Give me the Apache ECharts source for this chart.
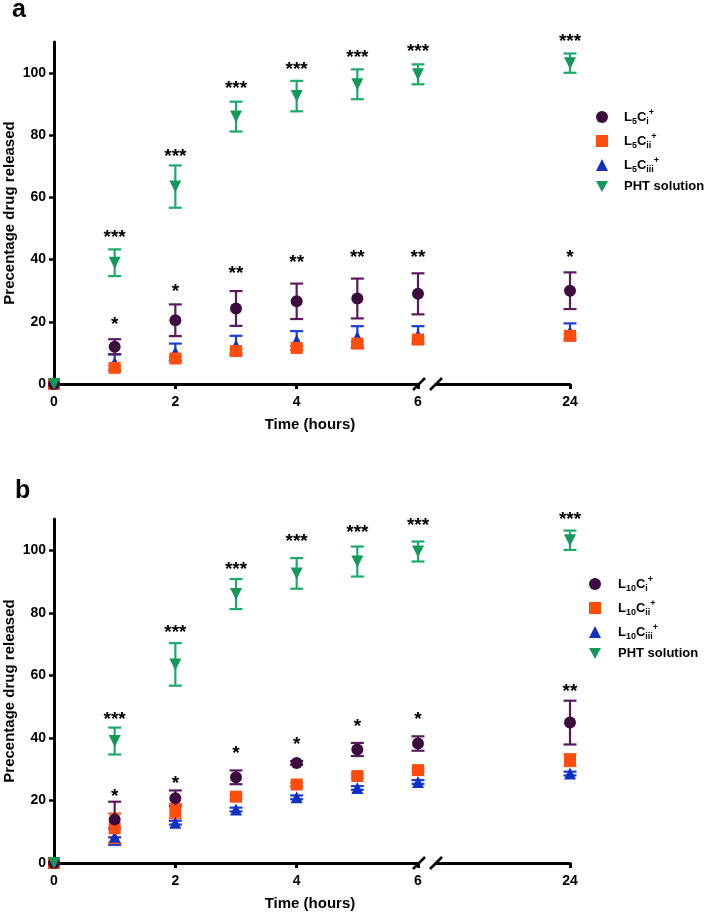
<!DOCTYPE html>
<html><head><meta charset="utf-8">
<script src="https://cdn.jsdelivr.net/npm/echarts@6/dist/echarts.min.js"></script>
<style>html,body{margin:0;padding:0;background:#fff}#c{width:706px;height:913px}</style>
</head><body><div id="c"></div>
<script>
// ---------- data ----------
const times = [0, 1, 2, 3, 4, 5, 6, 24];
const yTicks = [0, 20, 40, 60, 80, 100];
const xTicksLeft = [0, 2, 4, 6];
const xTicksRight = [24];

// Panel a
const aCiMean   = [0, 12.0, 20.5, 24.3, 26.6, 27.5, 29.0, 30.0];
const aCiSd     = [0, 2.4, 5.1, 5.6, 5.7, 6.4, 6.6, 5.9];
const aCiiMean  = [0, 5.2, 8.2, 10.6, 11.6, 13.0, 14.3, 15.5];
const aCiiSd    = [0, 0.6, 0.6, 0.6, 0.6, 0.6, 0.6, 0.6];
const aCiiiMean = [0, 6.9, 10.2, 12.4, 14.0, 15.1, 15.8, 16.8];
const aCiiiSd   = [0, 2.6, 2.8, 3.1, 3.0, 3.5, 2.8, 2.7];
const phtMean   = [0, 39.0, 63.5, 86.0, 92.6, 96.4, 99.6, 103.2];
const phtSd     = [0, 4.3, 6.8, 4.8, 4.9, 4.8, 3.2, 3.1];

const aCiSig    = ['', '*', '*', '**', '**', '**', '**', '*'];
const aCiSigY   = [null, 20.2, 31.1, 36.9, 40.4, 42.0, 42.0, 42.0];
const phtSig    = ['', '***', '***', '***', '***', '***', '***', '***'];
const aPhtSigY  = [null, 48.4, 74.5, 96.2, 102.2, 106.3, 108.3, 111.5];

// Panel b
const bCiMean   = [0, 13.9, 20.7, 27.4, 32.0, 36.3, 38.2, 44.9];
const bCiSd     = [0, 5.7, 2.5, 2.2, 0.6, 2.1, 2.3, 7.0];
const bCiiMean  = [0, 11.1, 16.6, 21.2, 25.1, 27.8, 29.7, 32.9];
const bCiiSd    = [0, 4.7, 2.3, 0.6, 0.6, 0.6, 0.6, 1.9];
const bCiiiMean = [0, 8.4, 12.9, 17.1, 21.0, 24.0, 25.9, 28.6];
const bCiiiSd   = [0, 2.6, 0.6, 0.6, 0.6, 0.6, 0.6, 0.6];

const bCiSig    = ['', '*', '*', '*', '*', '*', '*', '**'];
const bCiSigY   = [null, 22.6, 26.7, 36.3, 39.0, 44.8, 47.0, 55.9];
const bPhtSigY  = [null, 47.0, 74.8, 95.0, 104.0, 106.9, 109.0, 110.9];

// ---------- styling ----------
const FONT = "'Liberation Sans', Arial, Helvetica, sans-serif";
const C = {
  ci:   {mark: '#3c0c3e', bar: '#5a1a5e', symbol: 'circle', size: 12, rot: 0},
  cii:  {mark: '#ff4d0d', bar: '#ff5a1a', symbol: 'rect', size: 12, rot: 0},
  ciii: {mark: '#1030c4', bar: '#1a3fd0', symbol: 'triangle', size: 12, rot: 0},
  pht:  {mark: '#14995b', bar: '#1caa6a', symbol: 'triangle', size: 12, rot: 180}
};

const panels = [
  {top: 42, height: 342, names: ['L5Ci+', 'L5Cii+', 'L5Ciii+', 'PHT solution'],
   sets: [
     {key: 'ciii', name: 'L5Ciii+', mean: aCiiiMean, sd: aCiiiSd},
     {key: 'cii', name: 'L5Cii+', mean: aCiiMean, sd: aCiiSd},
     {key: 'ci', name: 'L5Ci+', mean: aCiMean, sd: aCiSd, sig: aCiSig, sigY: aCiSigY},
     {key: 'pht', name: 'PHT solution', mean: phtMean, sd: phtSd, sig: phtSig, sigY: aPhtSigY}
   ],
   legend: {left: 596, top: 108, pad: 11}},
  {top: 519, height: 344, names: ['L10Ci+', 'L10Cii+', 'L10Ciii+', 'PHT solution'],
   sets: [
     {key: 'ciii', name: 'L10Ciii+', mean: bCiiiMean, sd: bCiiiSd},
     {key: 'cii', name: 'L10Cii+', mean: bCiiMean, sd: bCiiSd},
     {key: 'ci', name: 'L10Ci+', mean: bCiMean, sd: bCiSd, sig: bCiSig, sigY: bCiSigY},
     {key: 'pht', name: 'PHT solution', mean: phtMean, sd: phtSd, sig: phtSig, sigY: bPhtSigY}
   ],
   legend: {left: 589, top: 575, pad: 12}}
];

const LEFT_X0 = 54, LEFT_W = 364, RIGHT_X0 = 436, RIGHT_W = 134;

const grids = [], xAxes = [], yAxes = [], series = [], legends = [], graphics = [];

const axisLabelStyle = {color: '#000', fontFamily: FONT, fontWeight: 'bold', fontSize: 14};

function errRender(color, capHalf) {
  return function (params, api) {
    const x = api.value(0), lo = api.value(1), hi = api.value(2);
    if (hi - lo <= 0) return null;
    const p1 = api.coord([x, hi]), p2 = api.coord([x, lo]);
    const st = {stroke: color, lineWidth: 2.2, fill: null};
    return {type: 'group', children: [
      {type: 'line', shape: {x1: p1[0], y1: p1[1], x2: p2[0], y2: p2[1]}, style: st},
      {type: 'line', shape: {x1: p1[0] - capHalf, y1: p1[1], x2: p1[0] + capHalf, y2: p1[1]}, style: st},
      {type: 'line', shape: {x1: p2[0] - capHalf, y1: p2[1], x2: p2[0] + capHalf, y2: p2[1]}, style: st}
    ]};
  };
}
function starRender(texts) {
  return function (params, api) {
    const p = api.coord([api.value(0), api.value(1)]);
    return {type: 'text', x: p[0], y: p[1] + 4, style: {
      text: texts[params.dataIndex], fill: '#000', align: 'center', verticalAlign: 'middle',
      font: 'bold 19px ' + FONT}};
  };
}

panels.forEach(function (pn, pi) {
  const gL = grids.length;
  grids.push({left: LEFT_X0, top: pn.top, width: LEFT_W, height: pn.height, outerBoundsMode: 'none', containLabel: false});
  grids.push({left: RIGHT_X0, top: pn.top, width: RIGHT_W, height: pn.height, outerBoundsMode: 'none', containLabel: false});
  const axLine = {show: true, onZero: false, lineStyle: {color: '#000', width: 3}};
  xAxes.push({gridIndex: gL, type: 'value', min: 0, max: 6,
    axisLine: axLine, splitLine: {show: false},
    axisTick: {show: true, customValues: xTicksLeft, length: 5, lineStyle: {color: '#000', width: 3}},
    axisLabel: Object.assign({customValues: xTicksLeft, margin: 11}, axisLabelStyle)});
  xAxes.push({gridIndex: gL + 1, type: 'value', min: 22, max: 24,
    axisLine: axLine, splitLine: {show: false},
    axisTick: {show: true, customValues: xTicksRight, length: 5, lineStyle: {color: '#000', width: 3}},
    axisLabel: Object.assign({customValues: xTicksRight, margin: 11}, axisLabelStyle)});
  yAxes.push({gridIndex: gL, type: 'value', min: 0, max: 110,
    axisLine: axLine, splitLine: {show: false},
    axisTick: {show: true, customValues: yTicks, length: 5, lineStyle: {color: '#000', width: 2.5}},
    axisLabel: Object.assign({customValues: yTicks, margin: 8}, axisLabelStyle)});
  yAxes.push({gridIndex: gL + 1, type: 'value', min: 0, max: 110, show: false});

  pn.sets.forEach(function (s) {
    const st = C[s.key];
    [0, 1].forEach(function (side) {
      const idx = [];
      times.forEach(function (t, i) { if ((side === 0) === (t <= 6)) idx.push(i); });
      const ax = gL + side;
      series.push({type: 'custom', xAxisIndex: ax, yAxisIndex: ax, clip: false, silent: true,
        renderItem: errRender(st.bar, 6.5),
        data: idx.map(function (i) { return [times[i], s.mean[i] - s.sd[i], s.mean[i] + s.sd[i]]; })});
      series.push({type: 'scatter', name: s.name, xAxisIndex: ax, yAxisIndex: ax, clip: false, silent: true,
        symbol: st.symbol, symbolSize: st.size, symbolRotate: st.rot,
        itemStyle: {color: st.mark, opacity: 1},
        data: idx.map(function (i) { return [times[i], s.mean[i]]; })});
      if (s.sig) {
        const ii = idx.filter(function (i) { return s.sigY[i] != null; });
        series.push({type: 'custom', xAxisIndex: ax, yAxisIndex: ax, clip: false, silent: true,
          renderItem: starRender(ii.map(function (i) { return s.sig[i]; })),
          data: ii.map(function (i) { return [times[i], s.sigY[i]]; })});
      }
    });
  });

  const icons = {ci: 'circle', cii: 'rect', ciii: 'triangle', pht: 'path://M0,0 L10,0 L5,9 Z'};
  const keys = ['ci', 'cii', 'ciii', 'pht'];
  legends.push({orient: 'vertical', left: pn.legend.left, top: pn.legend.top, padding: 0,
    itemWidth: 12, itemHeight: 12, itemGap: 6, selectedMode: false,
    data: pn.names.map(function (n, k) { return {name: n, icon: icons[keys[k]], itemStyle: {color: C[keys[k]].mark}}; }),
    formatter: function (name) {
      const m = name.match(/^L(\d+)C(i+)\+$/);
      if (m) return '{g| }{m|L}{s|' + m[1] + '}{m|C}{s|' + m[2] + '}{p|+}';
      return '{g| }{m|' + name + '}';
    },
    textStyle: {color: '#000', fontFamily: FONT, fontWeight: 'bold', fontSize: 13,
      rich: {
        g: {width: pn.legend.pad, fontSize: 13, lineHeight: 18},
        m: {fontFamily: FONT, fontWeight: 'bold', fontSize: 13, color: '#000', lineHeight: 18},
        s: {fontFamily: FONT, fontWeight: 'bold', fontSize: 9, color: '#000', lineHeight: 10, verticalAlign: 'bottom'},
        p: {fontFamily: FONT, fontWeight: 'bold', fontSize: 9, color: '#000', lineHeight: 10, verticalAlign: 'top'}
      }}});

  const axisY = pn.top + pn.height;
  graphics.push({type: 'line', shape: {x1: 413, y1: axisY + 6, x2: 425, y2: axisY - 6}, style: {stroke: '#000', lineWidth: 2.5}});
  graphics.push({type: 'line', shape: {x1: 430, y1: axisY + 6, x2: 442, y2: axisY - 6}, style: {stroke: '#000', lineWidth: 2.5}});
  graphics.push({type: 'text', x: 310, y: axisY + 41, style: {text: 'Time (hours)', fill: '#000',
    font: 'bold 15px ' + FONT, align: 'center', verticalAlign: 'middle'}});
  graphics.push({type: 'text', x: 10, y: pn.top + pn.height / 2, rotation: Math.PI / 2,
    style: {text: 'Precentage drug released', fill: '#000', font: 'bold 15px ' + FONT,
      align: 'center', verticalAlign: 'middle'}});
});

graphics.push({type: 'text', x: 12, y: -2, style: {text: 'a', fill: '#000', font: 'bold 25px ' + FONT, verticalAlign: 'top'}});
graphics.push({type: 'text', x: 15, y: 479, style: {text: 'b', fill: '#000', font: 'bold 25px ' + FONT, verticalAlign: 'top'}});

const chart = echarts.init(document.getElementById('c'), null, {renderer: 'canvas'});
chart.setOption({
  animation: false,
  backgroundColor: '#fff',
  grid: grids, xAxis: xAxes, yAxis: yAxes, series: series, legend: legends,
  graphic: graphics
});
</script>
</body></html>
